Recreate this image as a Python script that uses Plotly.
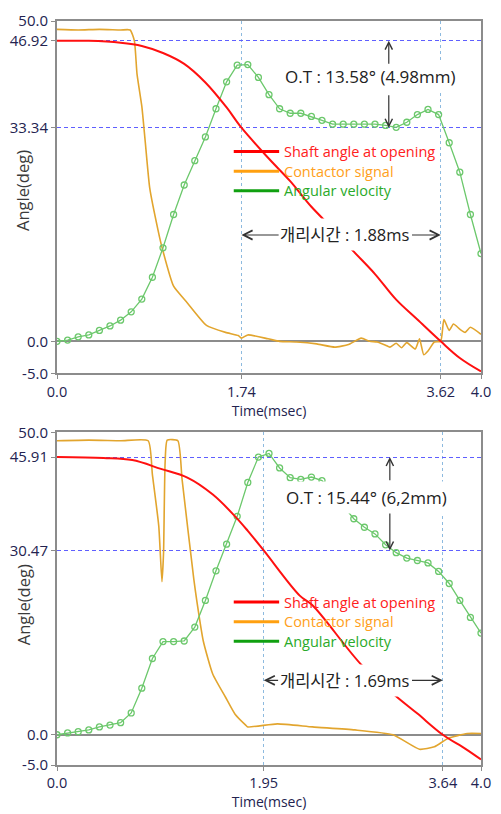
import plotly.graph_objects as go

# ---------------- data: top panel ----------------
t_shaft_top = [0.0, 0.3, 0.6, 0.8, 1.0, 1.2, 1.4, 1.6, 1.74, 2.0, 2.2, 2.4, 2.6, 2.8, 3.0, 3.2, 3.4, 3.62, 3.8, 4.0]
shaft_top = [46.92, 46.9, 46.6, 46.1, 45.0, 43.3, 40.4, 36.5, 33.34, 28.5, 25.0, 21.0, 17.6, 14.0, 10.5, 6.5, 3.4, 0.0, -2.6, -4.7]

t_cont_top = [0.0, 0.2, 0.4, 0.6, 0.69, 0.73, 0.755, 0.8, 0.83, 0.875, 0.955, 0.99, 1.1, 1.23, 1.41, 1.59, 1.71,
              1.74, 1.8, 1.99, 2.1, 2.26, 2.45, 2.62, 2.75, 2.87, 2.95, 3.02, 3.1, 3.14, 3.2, 3.25, 3.3, 3.38,
              3.42, 3.46, 3.5, 3.56, 3.62, 3.65, 3.7, 3.74, 3.8, 3.85, 3.9, 4.0]
cont_top = [48.7, 48.6, 48.7, 48.6, 48.6, 46.9, 41.7, 36.7, 31.6, 23.9, 17.2, 14.7, 8.6, 6.0, 2.5, 1.4, 0.9,
            0.5, 1.0, 0.4, 0.0, -0.1, -0.4, -0.9, -0.5, 0.5, 0.0, -0.1, -0.6, -0.9, -0.3, -1.0, -0.2, -1.2,
            0.4, -2.1, -1.5, -0.1, 0.0, 3.4, 1.7, 2.7, 1.9, 1.4, 2.2, 1.1]

t_vel = [0.0, 0.1, 0.2, 0.3, 0.4, 0.5, 0.6, 0.7, 0.8, 0.9, 1.0, 1.1, 1.2, 1.3, 1.4, 1.5, 1.6, 1.7, 1.8, 1.9, 2.0,
         2.1, 2.2, 2.3, 2.4, 2.5, 2.6, 2.7, 2.8, 2.9, 3.0, 3.1, 3.2, 3.3, 3.4, 3.5, 3.6, 3.7, 3.8, 3.9, 4.0]
vel_top = [0.0, 0.2, 0.7, 1.0, 1.7, 2.4, 3.3, 4.6, 6.6, 10.0, 14.6, 19.8, 24.4, 28.2, 31.9, 36.3, 40.5, 43.1, 43.2,
           41.2, 38.5, 36.3, 35.6, 35.6, 35.1, 34.5, 33.9, 33.9, 33.9, 33.9, 33.9, 33.7, 33.4, 34.2, 35.4, 36.2,
           35.4, 31.0, 26.4, 19.8, 13.7]

# ---------------- data: bottom panel ----------------
t_shaft_bot = [0.0, 0.44, 0.71, 0.98, 1.23, 1.47, 1.68, 1.8, 1.95, 2.29, 2.41, 2.88, 3.19, 3.4, 3.64, 3.85, 4.0]
shaft_bot = [45.91, 45.75, 45.4, 43.95, 42.5, 39.7, 36.1, 33.7, 30.47, 23.0, 21.4, 11.4, 6.5, 3.5, 0.0, -2.3, -4.1]

t_cont_bot = [0.0, 0.3, 0.6, 0.86, 0.9, 0.96, 0.99, 1.005, 1.02, 1.04, 1.14, 1.18, 1.29, 1.32, 1.38, 1.47, 1.59,
              1.68, 1.78, 1.8, 2.08, 2.41, 2.81, 3.17, 3.42, 3.56, 3.69, 3.87, 4.0]
cont_bot = [48.6, 48.7, 48.6, 48.6, 43.0, 34.5, 25.3, 30.0, 45.0, 48.7, 48.6, 42.2, 25.8, 22.0, 15.5, 10.0, 6.2,
            3.4, 1.6, 1.3, 1.8, 1.3, 0.8, 0.0, -2.4, -2.0, -0.6, 0.2, 0.2]

vel_bot = [0.0, 0.3, 0.5, 0.8, 1.3, 1.6, 2.0, 3.6, 7.7, 12.6, 15.4, 15.4, 15.5, 17.8, 22.2, 27.1, 31.5, 36.1, 41.7,
           45.9, 46.5, 44.1, 42.5, 42.2, 42.6, 42.0, 40.0, 37.8, 35.7, 34.3, 33.2, 31.4, 30.1, 29.2, 28.8, 28.4,
           27.0, 25.0, 22.2, 19.4, 16.8]

# ---------------- labels / reference values ----------------
series_names = ["Shaft angle at opening", "Contactor signal", "Angular velocity"]
top_yticks = [-5.0, 0.0, 33.34, 46.92, 50.0]
top_yticktext = ["-5.0", "0.0", "33.34", "46.92", "50.0"]
top_xticks = [0.0, 1.74, 3.62, 4.0]
top_xticktext = ["0.0", "1.74", "3.62", "4.0"]
bot_yticks = [-5.0, 0.0, 30.47, 45.91, 50.0]
bot_yticktext = ["-5.0", "0.0", "30.47", "45.91", "50.0"]
bot_xticks = [0.0, 1.95, 3.64, 4.0]
bot_xticktext = ["0.0", "1.95", "3.64", "4.0"]
ot_text_top = "O.T : 13.58° (4.98mm)"
ot_text_bot = "O.T : 15.44° (6,2mm)"
gap_text_top = "개리시간 : 1.88ms"
gap_text_bot = "개리시간 : 1.69ms"

# ---------------- styles ----------------
RED = "#FF1010"
ORANGE = "#E2A52E"
GREEN = "#6CC86C"
LEG_COLORS = ["#FF0000", "#FFA010", "#10A010"]
LEG_TEXT = ["#FF2020", "#FFA020", "#2AAA2A"]
FONT = "'Open Sans', 'Noto Sans CJK KR', sans-serif"
TICKC = "#232350"
AXC = "#8c8c8c"

W, H = 501, 814
ML, MR, MT, MB = 52, 10, 13, 43
PW, PH = W - ML - MR, H - MT - MB


def pxx(px):
    return (px - ML) / PW


def pxy(py):
    return (H - MB - py) / PH


fig = go.Figure()


def add_panel(xa, ya, t_sh, sh, t_co, co, vel):
    fig.add_trace(go.Scatter(x=t_co, y=co, mode="lines",
                             line=dict(color=ORANGE, width=1.6, shape="spline", smoothing=0.5),
                             xaxis=xa, yaxis=ya, showlegend=False, hoverinfo="skip"))
    fig.add_trace(go.Scatter(x=t_vel, y=vel, mode="lines+markers", line=dict(color=GREEN, width=1.3),
                             marker=dict(symbol="circle-open", size=6, color=GREEN, line=dict(width=1.3)),
                             xaxis=xa, yaxis=ya, showlegend=False, hoverinfo="skip"))
    fig.add_trace(go.Scatter(x=t_sh, y=sh, mode="lines",
                             line=dict(color=RED, width=2, shape="spline", smoothing=1.0),
                             xaxis=xa, yaxis=ya, showlegend=False, hoverinfo="skip"))


add_panel("x", "y", t_shaft_top, shaft_top, t_cont_top, cont_top, vel_top)
add_panel("x2", "y2", t_shaft_bot, shaft_bot, t_cont_bot, cont_bot, vel_bot)

axis_common = dict(showline=True, linecolor=AXC, linewidth=2, mirror=True, ticks="outside", ticklen=4,
                   tickcolor=AXC)
xcommon = dict(axis_common, range=[0, 4], showgrid=True, gridcolor="#8DBADF", griddash="3px,3px",
               gridwidth=1, zeroline=False, tickfont=dict(family=FONT, size=14.5, color=TICKC),
               title=dict(text="Time(msec)", font=dict(family=FONT, size=14, color=TICKC), standoff=2))
ycommon = dict(axis_common, range=[-5, 50], showgrid=True, gridcolor="#5F5FFF", griddash="4px,3px",
               gridwidth=1, zeroline=True, zerolinecolor=AXC, zerolinewidth=2,
               tickfont=dict(family=FONT, size=15, color=TICKC))

fig.update_layout(
    width=W, height=H,
    margin=dict(l=ML, r=MR, t=MT, b=MB),
    paper_bgcolor="white", plot_bgcolor="white",
    font=dict(family=FONT),
    showlegend=False,
    xaxis=dict(xcommon, domain=[0, 1], anchor="y", tickvals=top_xticks, ticktext=top_xticktext),
    yaxis=dict(ycommon, domain=[pxy(372), 1], anchor="x", tickvals=top_yticks, ticktext=top_yticktext),
    xaxis2=dict(xcommon, domain=[0, 1], anchor="y2", tickvals=bot_xticks, ticktext=bot_xticktext),
    yaxis2=dict(ycommon, domain=[0, pxy(432)], anchor="x2", tickvals=bot_yticks, ticktext=bot_yticktext),
)

ann = []
shapes = []
# y-axis titles
for yc in [186, 608]:
    ann.append(dict(text="Angle(deg)", xref="paper", yref="paper", x=pxx(17), y=pxy(yc), xanchor="center",
                    yanchor="middle", showarrow=False, textangle=-90,
                    font=dict(family=FONT, size=16.5, color="#3a3a3a")))

# legends (one per panel)
for y0 in [146, 605]:
    for i, (name, lc, tc) in enumerate(zip(series_names, LEG_COLORS, LEG_TEXT)):
        yy = pxy(y0 + i * 20)
        shapes.append(dict(type="line", xref="paper", yref="paper", x0=pxx(235), x1=pxx(282), y0=yy, y1=yy,
                           line=dict(color=lc, width=3)))
        ann.append(dict(text=name, xref="paper", yref="paper", x=pxx(286), y=yy, xanchor="left",
                        yanchor="middle", showarrow=False, borderpad=0,
                        font=dict(family=FONT, size=14.5, color=tc)))


def panel_annotations(xr, yr, ot_text, ot_x, ot_y, ot_top, ot_bot, arr_x, y_hi, y_lo,
                      gap_text, gap_x, gap_y, gap_l, gap_r, t_l, t_r):
    out = []
    out.append(dict(text=ot_text, xref=xr, yref=yr, x=ot_x, y=ot_y, showarrow=False, bgcolor="white",
                    borderpad=4, font=dict(family=FONT, size=17, color="#222222")))
    out.append(dict(text="", xref=xr, yref=yr, x=arr_x, y=y_hi, ax=arr_x, ay=ot_top, axref=xr, ayref=yr,
                    showarrow=True, arrowhead=5, arrowsize=1.2, arrowwidth=1.2, arrowcolor="#333333"))
    out.append(dict(text="", xref=xr, yref=yr, x=arr_x, y=y_lo, ax=arr_x, ay=ot_bot, axref=xr, ayref=yr,
                    showarrow=True, arrowhead=5, arrowsize=1.2, arrowwidth=1.2, arrowcolor="#333333"))
    out.append(dict(text=gap_text, xref=xr, yref=yr, x=gap_x, y=gap_y, showarrow=False, bgcolor="white",
                    borderpad=4, font=dict(family=FONT, size=16.5, color="#222222")))
    out.append(dict(text="", xref=xr, yref=yr, x=t_l, y=gap_y, ax=gap_l, ay=gap_y, axref=xr, ayref=yr,
                    showarrow=True, arrowhead=5, arrowsize=1.5, arrowwidth=1.2, arrowcolor="#333333"))
    out.append(dict(text="", xref=xr, yref=yr, x=t_r, y=gap_y, ax=gap_r, ay=gap_y, axref=xr, ayref=yr,
                    showarrow=True, arrowhead=5, arrowsize=1.5, arrowwidth=1.2, arrowcolor="#333333"))
    return out


ann += panel_annotations("x", "y", ot_text_top, 2.96, 41.4, 43.1, 38.65, 3.13, 46.92, 33.34,
                         gap_text_top, 2.72, 16.6, 2.105, 3.335, 1.74, 3.62)
ann += panel_annotations("x2", "y2", ot_text_bot, 2.92, 39.2, 41.8, 36.8, 3.14, 45.91, 30.47,
                         gap_text_bot, 2.715, 9.0, 2.10, 3.335, 1.95, 3.64)
fig.update_layout(annotations=ann, shapes=shapes)

fig.write_html("out.html")
